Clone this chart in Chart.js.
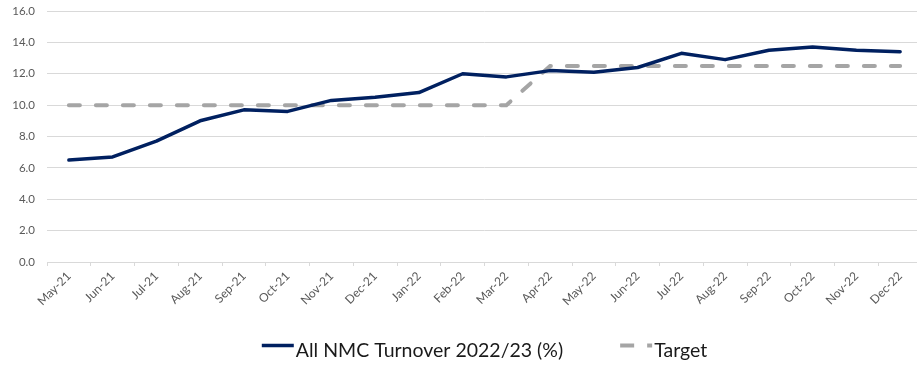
<!DOCTYPE html>
<html>
<head>
<meta charset="utf-8">
<script src="https://cdn.jsdelivr.net/npm/chart.js@4/dist/chart.umd.min.js"></script>
<style>
  html, body { margin: 0; padding: 0; background: #fff; overflow: hidden; }
  #wrap { position: relative; width: 925px; height: 365px; }
</style>
</head>
<body>
<div id="wrap"><canvas id="c"></canvas></div>
<script>
const months = ['May-21','Jun-21','Jul-21','Aug-21','Sep-21','Oct-21','Nov-21','Dec-21','Jan-22','Feb-22',
                'Mar-22','Apr-22','May-22','Jun-22','Jul-22','Aug-22','Sep-22','Oct-22','Nov-22','Dec-22'];
const turnover = [6.5, 6.7, 7.7, 9.0, 9.7, 9.6, 10.3, 10.5, 10.8, 12.0,
                  11.8, 12.2, 12.1, 12.4, 13.3, 12.9, 13.5, 13.7, 13.5, 13.4];
const target = [10, 10, 10, 10, 10, 10, 10, 10, 10, 10,
                10, 12.5, 12.5, 12.5, 12.5, 12.5, 12.5, 12.5, 12.5, 12.5];
const yTicks = [0, 2, 4, 6, 8, 10, 12, 14, 16];

const FONT = 'Lato, "Open Sans", sans-serif';

// Legend drawn below the axis: a short line sample right before each label,
// centred under the plot area.
const bottomLegend = {
  id: 'bottomLegend',
  afterDraw(chart) {
    const { ctx, chartArea } = chart;
    const sampleW = 32, gapAfterSample = 2, gapBetween = 57;
    const y = 345.5;
    ctx.save();
    ctx.font = '19.5px ' + FONT;
    const items = chart.data.datasets.map(ds => ({
      ds, textW: ctx.measureText(ds.label).width
    }));
    const total = items.reduce((s, it) => s + sampleW + gapAfterSample + it.textW, 0) + gapBetween * (items.length - 1);
    let x = (chartArea.left + chartArea.right) / 2 - total / 2;
    items.forEach(({ ds, textW }) => {
      ctx.beginPath();
      ctx.strokeStyle = ds.borderColor;
      ctx.lineWidth = ds.label === 'Target' ? 4 : 3.5;
      ctx.setLineDash(ds.borderDash ? [14, 13] : []);
      ctx.lineCap = 'butt';
      ctx.moveTo(x, y);
      ctx.lineTo(x + sampleW, y);
      ctx.stroke();
      ctx.setLineDash([]);
      x += sampleW + gapAfterSample;
      ctx.fillStyle = '#1a1a1a';
      ctx.textBaseline = 'alphabetic';
      ctx.textAlign = 'left';
      ctx.fillText(ds.label, x, 357);
      x += textW + gapBetween;
    });
    ctx.restore();
  }
};

// Fixed axis sizes so the plot area sits where the layout wants it.
function fixX(scale) {
  scale.height = 103;
  scale.paddingLeft = 0; scale.paddingRight = 0; scale.paddingTop = 0; scale.paddingBottom = 0;
}
function fixY(scale) {
  scale.width = 47;
  scale.paddingLeft = 0; scale.paddingRight = 0; scale.paddingTop = 0; scale.paddingBottom = 0;
}

new Chart(document.getElementById('c'), {
  type: 'line',
  data: {
    labels: months,
    datasets: [
      {
        label: 'All NMC Turnover 2022/23 (%)',
        data: turnover,
        borderColor: '#002060',
        backgroundColor: '#002060',
        borderWidth: 3.5,
        pointRadius: 0,
        tension: 0,
        borderCapStyle: 'round',
        borderJoinStyle: 'round',
        order: 1
      },
      {
        label: 'Target',
        data: target,
        borderColor: '#A5A5A5',
        backgroundColor: '#A5A5A5',
        borderWidth: 4,
        borderDash: [11, 16],
        borderCapStyle: 'round',
        pointRadius: 0,
        tension: 0,
        order: 2
      }
    ]
  },
  options: {
    responsive: true,
    maintainAspectRatio: false,
    animation: false,
    layout: { padding: { left: 0, right: 3, top: 11, bottom: 0 } },
    scales: {
      x: {
        offset: true,
        afterFit: fixX,
        grid: { offset: true, drawOnChartArea: false, color: '#D9D9D9', tickLength: 4 },
        border: { color: '#D9D9D9' },
        ticks: { minRotation: 45, maxRotation: 45, color: '#595959', font: { family: FONT, size: 12 }, padding: 3 }
      },
      y: {
        min: 0, max: 16,
        afterFit: fixY,
        afterBuildTicks: (s) => { s.ticks = yTicks.map(v => ({ value: v })); },
        grid: { color: '#D9D9D9', drawTicks: false },
        border: { display: false },
        ticks: { color: '#595959', font: { family: FONT, size: 11.5 }, padding: 12, callback: (v) => Number(v).toFixed(1) }
      }
    },
    plugins: {
      tooltip: { enabled: false },
      legend: { display: false }
    }
  },
  plugins: [bottomLegend]
});
</script>
</body>
</html>
